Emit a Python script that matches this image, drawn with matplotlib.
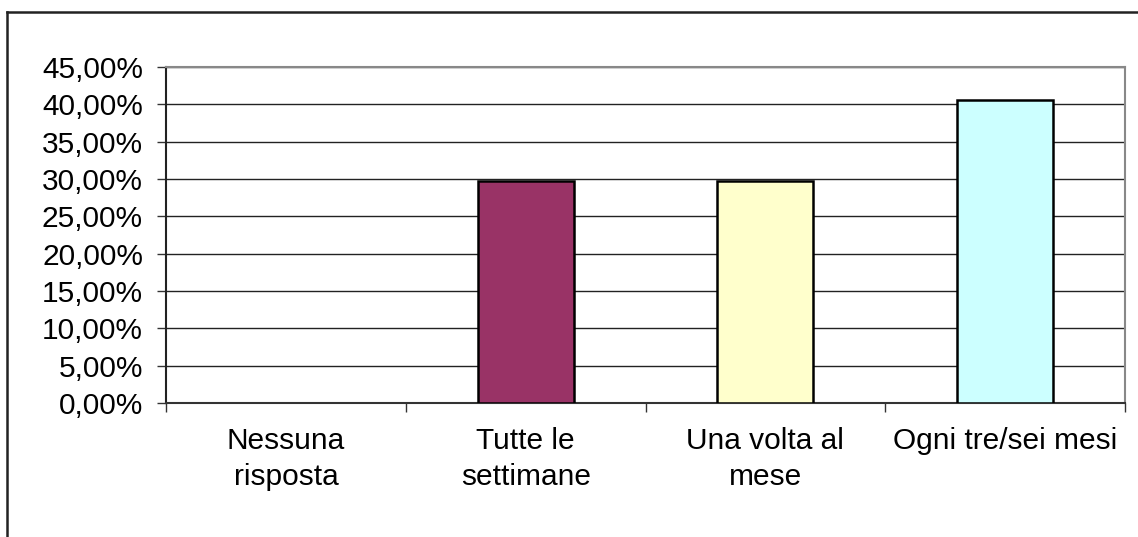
import numpy as np
import matplotlib
matplotlib.use('Agg')
import matplotlib.pyplot as plt
from matplotlib.ticker import FuncFormatter, MultipleLocator
from matplotlib.lines import Line2D

categories = ['Nessuna\nrisposta', 'Tutte le\nsettimane', 'Una volta al\nmese', 'Ogni tre/sei mesi']
values = [0.0, 0.2973, 0.2973, 0.4054]
colors = ['#FFFFFF', '#993366', '#FFFFCC', '#CCFFFF']

plt.rcParams['font.family'] = ['Liberation Sans', 'DejaVu Sans']

fig = plt.figure(figsize=(11.38, 5.37), dpi=100, facecolor='white')
ax = fig.add_axes([166/1138, 134/537, 959/1138, 336/537])

x = np.arange(len(categories))
# zero-height bar shows no outline in the original
edge_w = [0 if v == 0 else 1.8 for v in values]
ax.bar(x, values, width=0.4, color=colors, edgecolor='black', linewidth=edge_w, zorder=3)

ax.set_xlim(-0.5, 3.5)
ax.set_ylim(0, 0.45)
ax.yaxis.set_major_locator(MultipleLocator(0.05))
ax.yaxis.set_major_formatter(FuncFormatter(lambda v, p: f'{v*100:.2f}%'.replace('.', ',')))
ax.grid(axis='y', color='#222222', linewidth=1.0, zorder=0)

# category boundaries as ticks, labels at centres
ax.set_xticks(np.arange(-0.5, 4.0, 1.0))
ax.set_xticklabels([])
ax.set_xticks(x, minor=True)
ax.set_xticklabels(categories, minor=True, fontsize=21.5, linespacing=1.4)
ax.tick_params(axis='x', which='major', direction='out', length=6.5, width=1, color='#333333')
ax.tick_params(axis='x', which='minor', length=0, pad=17)
ax.tick_params(axis='y', direction='out', length=6.5, width=1, color='#333333', labelsize=21.5, pad=10)

ax.spines['top'].set_color('#888888')
ax.spines['right'].set_color('#888888')
ax.spines['left'].set_color('#222222')
ax.spines['bottom'].set_color('#333333')
for s in ax.spines.values():
    s.set_linewidth(1.5)

# outer chart frame (only left and top show)
fig.add_artist(Line2D([7/1138, 7/1138], [0, 1 - 12/537], transform=fig.transFigure, color='#222222', linewidth=1.8))
fig.add_artist(Line2D([7/1138, 1], [1 - 12/537, 1 - 12/537], transform=fig.transFigure, color='#222222', linewidth=1.8))

fig.savefig('out.png', dpi=100, facecolor='white')
